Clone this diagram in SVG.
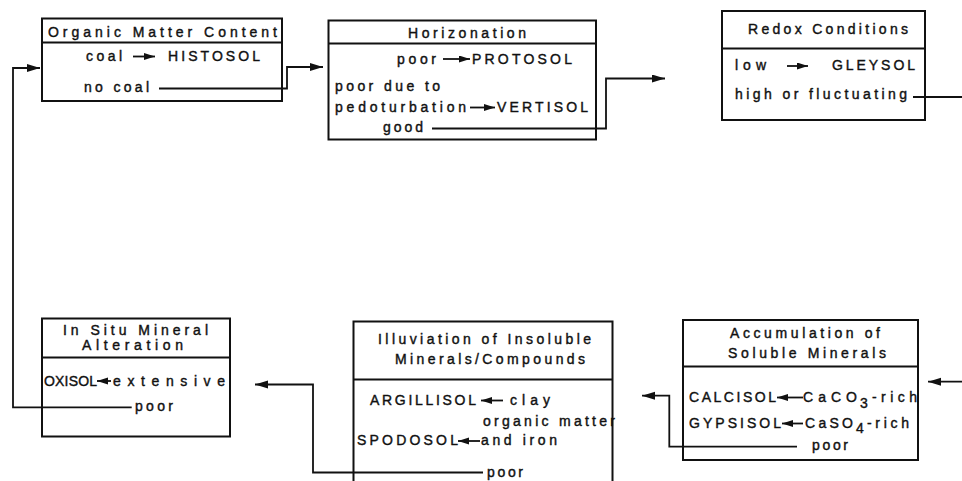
<svg xmlns="http://www.w3.org/2000/svg" width="962" height="481" viewBox="0 0 962 481">
<style>
text{font-family:"Liberation Sans",Arial,sans-serif;font-size:14px;fill:#111;stroke:#111;stroke-width:0.4}
.box{fill:#fff;stroke:#111;stroke-width:2}
.sep{stroke:#111;stroke-width:2}
.con{fill:none;stroke:#111;stroke-width:1.8}
.ia{fill:none;stroke:#111;stroke-width:1.8}
</style>
<defs>
<marker id="ah" markerUnits="userSpaceOnUse" markerWidth="14" markerHeight="10" refX="13" refY="4" orient="auto">
<path d="M0,0 L13,4 L0,8 z" fill="#111"/>
</marker>
<marker id="ih" markerUnits="userSpaceOnUse" markerWidth="12" markerHeight="10" refX="11" refY="3.5" orient="auto">
<path d="M0,0 L11,3.5 L0,7 z" fill="#111"/>
</marker>
</defs>

<g id="organic">
<rect class="box" x="42" y="18.5" width="240" height="82.5"/>
<line class="sep" x1="42" y1="42.5" x2="282" y2="42.5"/>
<text x="48" y="36.5" textLength="229" lengthAdjust="spacing">Organic Matter Content</text>
<text x="86" y="61" textLength="36" lengthAdjust="spacing">coal</text>
<line class="ia" x1="133" y1="56.5" x2="155" y2="56.5" marker-end="url(#ih)"/>
<text x="168" y="61" textLength="92" lengthAdjust="spacing">HISTOSOL</text>
<text x="84" y="92" textLength="65" lengthAdjust="spacing">no coal</text>
</g>

<g id="horizonation">
<rect class="box" x="328.5" y="20.5" width="267.5" height="119"/>
<line class="sep" x1="328.5" y1="43.5" x2="596" y2="43.5"/>
<text x="408" y="37.5" textLength="118" lengthAdjust="spacing">Horizonation</text>
<text x="397" y="63.5" textLength="39" lengthAdjust="spacing">poor</text>
<line class="ia" x1="443" y1="59" x2="470" y2="59" marker-end="url(#ih)"/>
<text x="472" y="63.5" textLength="100" lengthAdjust="spacing">PROTOSOL</text>
<text x="335" y="91" textLength="105" lengthAdjust="spacing">poor due to</text>
<text x="335" y="112" textLength="131" lengthAdjust="spacing">pedoturbation</text>
<line class="ia" x1="470" y1="107.5" x2="495" y2="107.5" marker-end="url(#ih)"/>
<text x="497" y="112" textLength="91" lengthAdjust="spacing">VERTISOL</text>
<text x="383" y="132" textLength="40" lengthAdjust="spacing">good</text>
</g>

<g id="redox">
<rect class="box" x="722" y="11" width="203" height="109"/>
<line class="sep" x1="722" y1="48.5" x2="925" y2="48.5"/>
<text x="748" y="34" textLength="160" lengthAdjust="spacing">Redox Conditions</text>
<text x="735" y="70" textLength="31" lengthAdjust="spacing">low</text>
<line class="ia" x1="787" y1="66" x2="808" y2="66" marker-end="url(#ih)"/>
<text x="832" y="70" textLength="83" lengthAdjust="spacing">GLEYSOL</text>
<text x="735" y="98.5" textLength="172" lengthAdjust="spacing">high or fluctuating</text>
</g>

<g id="insitu">
<rect class="box" x="42" y="318.5" width="188" height="118"/>
<line class="sep" x1="42" y1="357.5" x2="230" y2="357.5"/>
<text x="63" y="334.5" textLength="145" lengthAdjust="spacing">In Situ Mineral</text>
<text x="82" y="350" textLength="101" lengthAdjust="spacing">Alteration</text>
<text x="44" y="385.5" textLength="53" lengthAdjust="spacing">OXISOL</text>
<line class="ia" x1="111" y1="381" x2="97" y2="381" marker-end="url(#ih)"/>
<text x="113" y="385.5" textLength="112" lengthAdjust="spacing">extensive</text>
<text x="135" y="411" textLength="38" lengthAdjust="spacing">poor</text>
</g>

<g id="illuviation">
<rect class="box" x="353.5" y="321.5" width="259" height="163"/>
<line class="sep" x1="353.5" y1="379.5" x2="612.5" y2="379.5"/>
<text x="378" y="343.5" textLength="213" lengthAdjust="spacing">Illuviation of Insoluble</text>
<text x="395" y="363.5" textLength="190" lengthAdjust="spacing">Minerals/Compounds</text>
<text x="370" y="405" textLength="106" lengthAdjust="spacing">ARGILLISOL</text>
<line class="ia" x1="503" y1="400.5" x2="481" y2="400.5" marker-end="url(#ih)"/>
<text x="510" y="405" textLength="40" lengthAdjust="spacing">clay</text>
<text x="483" y="426" textLength="132" lengthAdjust="spacing">organic matter</text>
<text x="357" y="445" textLength="101" lengthAdjust="spacing">SPODOSOL</text>
<line class="ia" x1="480" y1="441" x2="458" y2="441" marker-end="url(#ih)"/>
<text x="481" y="445" textLength="76" lengthAdjust="spacing">and iron</text>
<text x="487" y="477" textLength="36" lengthAdjust="spacing">poor</text>
</g>

<g id="accumulation">
<rect class="box" x="683" y="320" width="235" height="140"/>
<line class="sep" x1="683" y1="366.5" x2="918" y2="366.5"/>
<text x="730" y="337.5" textLength="150" lengthAdjust="spacing">Accumulation of</text>
<text x="728" y="357.5" textLength="158" lengthAdjust="spacing">Soluble Minerals</text>
<text x="689" y="402" textLength="87" lengthAdjust="spacing">CALCISOL</text>
<line class="ia" x1="803" y1="397.5" x2="777" y2="397.5" marker-end="url(#ih)"/>
<text x="803" y="402" textLength="54" lengthAdjust="spacing">CaCO</text>
<text x="860" y="408">3</text>
<text x="872" y="402" textLength="45" lengthAdjust="spacing">-rich</text>
<text x="689" y="428" textLength="92" lengthAdjust="spacing">GYPSISOL</text>
<line class="ia" x1="803" y1="423.5" x2="782" y2="423.5" marker-end="url(#ih)"/>
<text x="805" y="428" textLength="48" lengthAdjust="spacing">CaSO</text>
<text x="856" y="433">4</text>
<text x="867" y="428" textLength="42" lengthAdjust="spacing">-rich</text>
<text x="812" y="450" textLength="36" lengthAdjust="spacing">poor</text>
</g>

<g id="connectors">
<path class="con" d="M159,88.5 H287 V67 H323" marker-end="url(#ah)"/>
<path class="con" d="M432,128.5 H606 V78.5 H665" marker-end="url(#ah)"/>
<path class="con" d="M913,97 H962"/>
<path class="con" d="M962,381.7 H928" marker-end="url(#ah)"/>
<path class="con" d="M797,446.7 H669.3 V395.7 H642" marker-end="url(#ah)"/>
<path class="con" d="M483,472.5 H313 V384.5 H255" marker-end="url(#ah)"/>
<path class="con" d="M131.7,407.3 H13 V68 H40" marker-end="url(#ah)"/>
</g>
</svg>
